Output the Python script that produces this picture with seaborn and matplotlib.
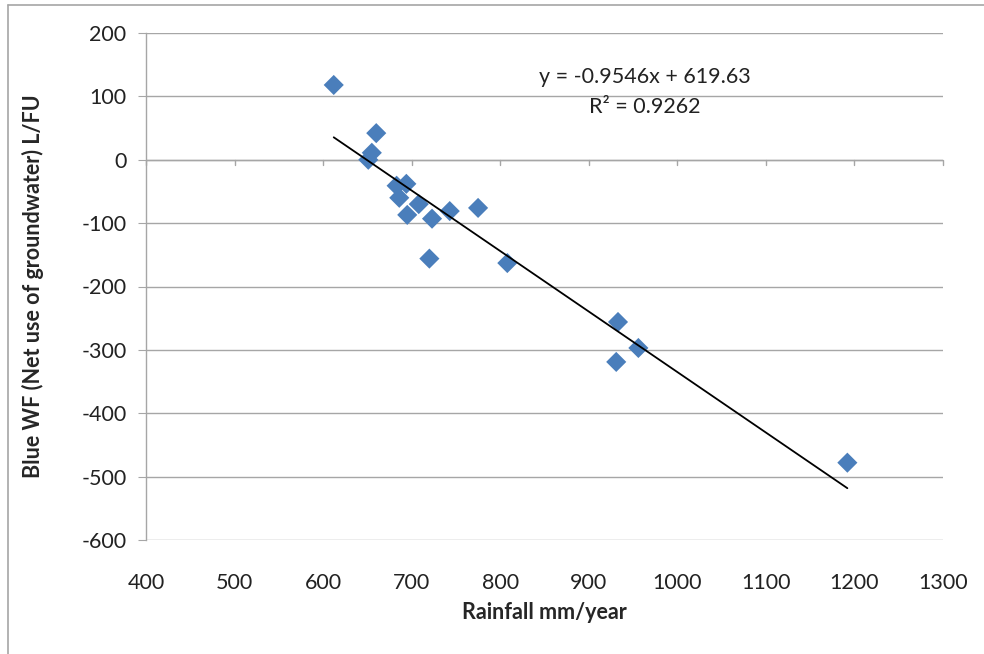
import matplotlib
matplotlib.use("Agg")
import matplotlib.pyplot as plt
import seaborn as sns
import numpy as np
import pandas as pd
from matplotlib.lines import Line2D

rainfall = [612, 660, 655, 651, 683, 694, 686, 695, 708, 723, 743, 775, 720, 808, 933, 931, 956, 1192]
blue_wf = [118, 42, 11, 0, -41, -38, -60, -87, -70, -93, -81, -76, -156, -163, -256, -319, -297, -478]
slope = -0.9546
intercept = 619.63
eq_text = "y = -0.9546x + 619.63"
r2_text = "R² = 0.9262"
x_ticks = [400, 500, 600, 700, 800, 900, 1000, 1100, 1200, 1300]
y_ticks = [200, 100, 0, -100, -200, -300, -400, -500, -600]

df = pd.DataFrame({"rain": rainfall, "wf": blue_wf})

sns.set_style("white")
plt.rcParams['font.family'] = ['Lato', 'DejaVu Sans']

fig = plt.figure(figsize=(9.84, 6.54), dpi=100)
ax = fig.add_axes([146/984, 1-540/654, (943-146)/984, (540-33)/654])

# grid lines
for yv in y_ticks:
    ax.axhline(yv, color="#a6a6a6", lw=1.0, zorder=0)

sns.scatterplot(data=df, x="rain", y="wf", marker="D", s=105, color="#4a7ebb",
                edgecolor="none", ax=ax, zorder=3, legend=False)

# trendline
xs = np.array([min(rainfall), max(rainfall)])
sns.lineplot(x=xs, y=slope * xs + intercept, color="black", lw=1.3, ax=ax, zorder=4)

fs = 15.5
ax.set_xlim(400, 1300)
ax.set_ylim(-600, 200)
ax.set_xticks(x_ticks)
ax.set_yticks(y_ticks)
ax.set_xticklabels([str(t) for t in x_ticks], fontsize=fs, color="#222222")
ax.set_yticklabels([str(t) for t in y_ticks], fontsize=fs, color="#222222")
for s in ["top", "right", "bottom"]:
    ax.spines[s].set_visible(False)
ax.spines["left"].set_color("#a6a6a6")
ax.spines["left"].set_linewidth(1.0)
ax.tick_params(axis="y", which="both", length=6, color="#a6a6a6", left=True, pad=8)
ax.tick_params(axis="x", which="both", length=0, pad=24)

# x axis crossing at 0 with tick marks
ax.axhline(0, color="#a6a6a6", lw=1.0, zorder=1)
for xv in x_ticks:
    ax.plot([xv, xv], [0, -9], color="#a6a6a6", lw=1.0, zorder=1, clip_on=False)

ax.set_xlabel("Rainfall mm/year", fontsize=fs, fontweight="bold", labelpad=6)
ax.set_ylabel("Blue WF (Net use of groundwater) L/FU", fontsize=fs, fontweight="bold", labelpad=27)

ax.text(963, 130, eq_text, fontsize=fs, ha="center", va="center", color="#222222")
ax.text(963, 83, r2_text, fontsize=fs, ha="center", va="center", color="#222222")

# outer chart border (left and top visible)
fig.add_artist(Line2D([8/984, 8/984], [0, 1-5/654], transform=fig.transFigure, color="#a6a6a6", lw=1.2))
fig.add_artist(Line2D([8/984, 1], [1-5/654, 1-5/654], transform=fig.transFigure, color="#a6a6a6", lw=1.2))

fig.savefig("out.png", dpi=100)
